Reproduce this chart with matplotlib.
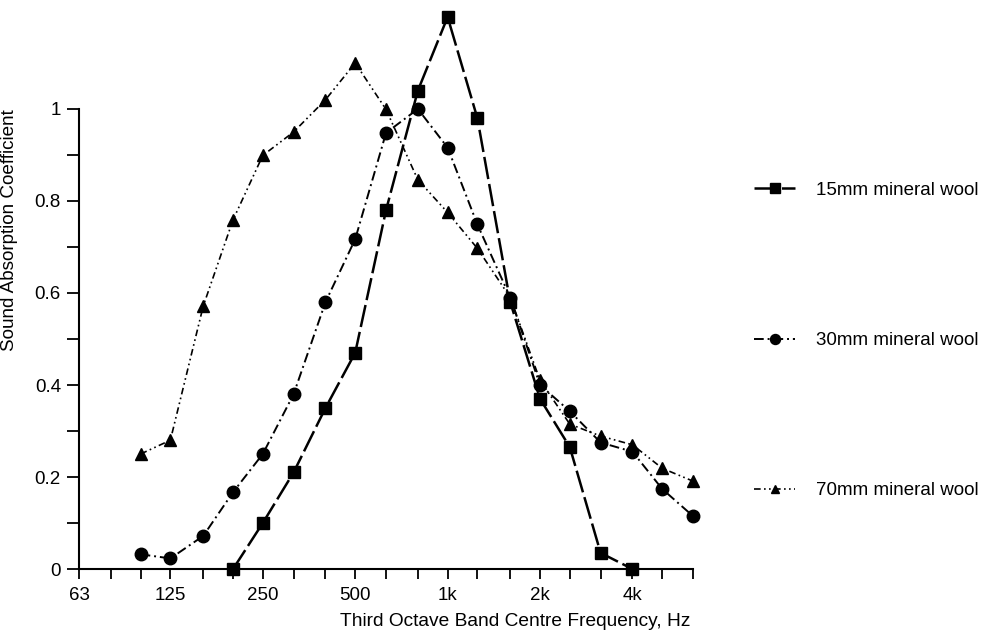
import matplotlib
matplotlib.use("Agg")
import matplotlib.pyplot as plt
from matplotlib.ticker import FixedLocator, NullFormatter

plt.rcParams['font.family'] = ['Liberation Sans', 'DejaVu Sans']

# third octave band centres (nominal), Hz
freq_15 = [200, 250, 315, 400, 500, 630, 800, 1000, 1250, 1600, 2000, 2500, 3150, 4000]
alpha_15 = [0.0, 0.10, 0.21, 0.35, 0.47, 0.78, 1.04, 1.20, 0.98, 0.58, 0.37, 0.265, 0.035, 0.0]

freq_30 = [100, 125, 160, 200, 250, 315, 400, 500, 630, 800, 1000, 1250, 1600, 2000, 2500, 3150, 4000, 5000, 6300]
alpha_30 = [0.032, 0.023, 0.072, 0.167, 0.25, 0.38, 0.58, 0.717, 0.948, 1.0, 0.916, 0.749, 0.59, 0.40, 0.343, 0.275, 0.255, 0.174, 0.115]

freq_70 = [100, 125, 160, 200, 250, 315, 400, 500, 630, 800, 1000, 1250, 1600, 2000, 2500, 3150, 4000, 5000, 6300]
alpha_70 = [0.25, 0.28, 0.572, 0.759, 0.899, 0.95, 1.02, 1.10, 0.999, 0.846, 0.775, 0.697, 0.59, 0.41, 0.315, 0.289, 0.27, 0.219, 0.191]

major_f = [63, 125, 250, 500, 1000, 2000, 4000]
major_lbl = ['63', '125', '250', '500', '1k', '2k', '4k']
minor_f = [80, 100, 160, 200, 315, 400, 630, 800, 1250, 1600, 2500, 3150, 5000, 6300]

fig = plt.figure(figsize=(9.84, 6.34), dpi=100)
ax = fig.add_axes([0.0803, 0.1025, 0.624, 0.7256])

l15, = ax.plot(freq_15, alpha_15, color='black', lw=1.8, ls=(0, (9, 2)),
               marker='s', ms=8.5, clip_on=False, zorder=4, label='15mm mineral wool')
l30, = ax.plot(freq_30, alpha_30, color='black', lw=1.4, ls=(0, (5, 2, 1, 2)),
               marker='o', ms=9, clip_on=False, zorder=3, label='30mm mineral wool')
l70, = ax.plot(freq_70, alpha_70, color='black', lw=1.2, ls=(0, (4, 2, 1, 2, 1, 2)),
               marker='^', ms=8, clip_on=False, zorder=3, label='70mm mineral wool')

ax.set_xscale('log')
ax.set_xlim(63, 6300)
ax.set_ylim(0, 1)
ax.xaxis.set_major_locator(FixedLocator(major_f))
ax.set_xticklabels(major_lbl)
ax.xaxis.set_minor_locator(FixedLocator(minor_f))
ax.xaxis.set_minor_formatter(NullFormatter())
ax.set_yticks([0, 0.2, 0.4, 0.6, 0.8, 1.0])
ax.set_yticklabels(['0', '0.2', '0.4', '0.6', '0.8', '1'])
ax.set_yticks([0.1, 0.3, 0.5, 0.7, 0.9], minor=True)

for s in ['top', 'right']:
    ax.spines[s].set_visible(False)
for s in ['left', 'bottom']:
    ax.spines[s].set_linewidth(1.5)

ax.tick_params(axis='both', which='both', direction='out', width=1.3, labelsize=13.5)
ax.tick_params(axis='x', which='both', length=7, pad=6)
ax.tick_params(axis='y', which='both', length=9, pad=4)

ax.set_xlabel('Third Octave Band Centre Frequency, Hz', fontsize=13.8)
ax.xaxis.set_label_coords(0.71, -0.095)
ax.set_ylabel('Sound Absorption Coefficient', fontsize=13.6)
ax.yaxis.set_label_coords(-0.099, 0.737)

fig.legend(handles=[l15, l30, l70], loc='upper left', bbox_to_anchor=(0.749, 0.74),
           frameon=False, fontsize=13.5, labelspacing=7.1, handlelength=2.2,
           handletextpad=1.1, markerscale=0.8)

fig.savefig('out.png', dpi=100)
